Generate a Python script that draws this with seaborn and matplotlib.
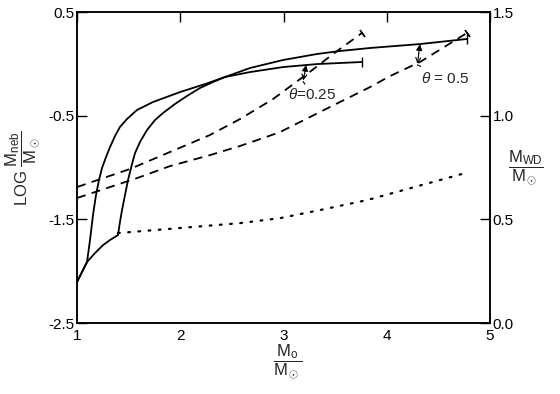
import numpy as np
import seaborn as sns
import matplotlib.pyplot as plt

# initial mass M0/Msun vs LOG Mneb/Msun (solid, left axis)
m0_solid_025 = [1.0, 1.097, 1.126, 1.155, 1.184, 1.213, 1.242, 1.281, 1.320, 1.368, 1.416, 1.484,
                1.581, 1.736, 1.998, 2.240, 2.433, 2.676, 2.995, 3.324, 3.760]
logneb_025 = [-2.104, -1.911, -1.699, -1.458, -1.265, -1.121, -1.005, -0.899, -0.802, -0.696, -0.609, -0.532,
              -0.445, -0.368, -0.272, -0.195, -0.127, -0.079, -0.031, -0.002, 0.018]
m0_solid_05 = [1.0, 1.097, 1.174, 1.252, 1.320, 1.397, 1.416, 1.436, 1.465, 1.494, 1.533, 1.562, 1.610,
               1.678, 1.755, 1.833, 1.949, 2.065, 2.191, 2.317, 2.433, 2.676, 2.995, 3.324, 3.547, 3.838,
               4.322, 4.777]
logneb_05 = [-2.104, -1.911, -1.825, -1.748, -1.699, -1.651, -1.526, -1.410, -1.265, -1.121, -0.966, -0.860, -0.754,
             -0.638, -0.542, -0.474, -0.387, -0.310, -0.233, -0.175, -0.127, -0.040, 0.037, 0.095, 0.124, 0.153,
             0.191, 0.240]

# white dwarf mass MWD/Msun (dashed + dotted, right axis)
m0_dash_025 = [1.0, 1.513, 1.901, 2.288, 2.579, 2.898, 3.228, 3.479, 3.760]
mwd_025 = [0.656, 0.743, 0.825, 0.907, 0.984, 1.080, 1.201, 1.297, 1.399]
m0_dash_05 = [1.0, 1.581, 1.901, 2.288, 2.579, 2.801, 2.966, 3.450, 3.838, 4.031, 4.322, 4.777]
mwd_05 = [0.603, 0.699, 0.757, 0.810, 0.854, 0.892, 0.921, 1.042, 1.138, 1.191, 1.259, 1.399]
m0_dot = [1.397, 2.579, 2.966, 3.353, 3.809, 4.758]
mwd_dot = [0.434, 0.482, 0.506, 0.545, 0.593, 0.723]

xticks = [1, 2, 3, 4, 5]
left_ticks = [-2.5, -1.5, -0.5, 0.5]
right_ticks = [0.0, 0.5, 1.0, 1.5]

sns.set_theme(style="white")
plt.rcParams['font.family'] = ['Liberation Sans', 'DejaVu Sans']
plt.rcParams['mathtext.fontset'] = 'custom'
plt.rcParams['mathtext.rm'] = 'Liberation Sans'
plt.rcParams['mathtext.it'] = 'Liberation Sans:italic'
plt.rcParams['axes.unicode_minus'] = False

fig = plt.figure(figsize=(5.6, 3.94), dpi=100)
ax = fig.add_axes([0.1375, 0.18, 0.7375, 0.7895])
ax2 = ax.twinx()

dash = (0, (5, 3.5))
sns.lineplot(x=m0_solid_025, y=logneb_025, ax=ax, color='black', lw=1.3, sort=False, estimator=None)
sns.lineplot(x=m0_solid_05, y=logneb_05, ax=ax, color='black', lw=1.3, sort=False, estimator=None)
sns.lineplot(x=m0_dash_025, y=mwd_025, ax=ax2, color='black', lw=1.3, linestyle=dash, sort=False, estimator=None)
sns.lineplot(x=m0_dash_05, y=mwd_05, ax=ax2, color='black', lw=1.3, linestyle=dash, sort=False, estimator=None)
sns.lineplot(x=m0_dot, y=mwd_dot, ax=ax2, color='black', lw=1.6, linestyle=(0, (0.8, 3.8)),
             dash_capstyle='round', sort=False, estimator=None)

# end bars of the curves
ax.plot(m0_solid_025[-1], logneb_025[-1], marker='|', ms=7, mew=1, color='black')
ax.plot(m0_solid_05[-1], logneb_05[-1], marker='|', ms=7, mew=1, color='black')
ax2.plot(m0_dash_025[-1], mwd_025[-1], marker=(2, 2, 36), ms=6, mew=1, color='black')
ax2.plot(m0_dash_05[-1], mwd_05[-1], marker=(2, 2, 36), ms=6, mew=1, color='black')

ax.set_xlim(1, 5)
ax.set_ylim(-2.5, 0.5)
ax2.set_ylim(0, 1.5)
ax.set_xticks(xticks)
ax.set_xticklabels([str(v) for v in xticks])
ax.set_yticks(left_ticks)
ax.set_yticklabels([f"{v:.1f}" for v in left_ticks])
ax2.set_yticks(right_ticks)
ax2.set_yticklabels([f"{v:.1f}" for v in right_ticks])

ax.tick_params(axis='both', direction='in', length=7, width=1, labelsize=11, pad=2,
               top=True, right=False, colors='black')
ax.tick_params(axis='x', pad=4)
ax2.tick_params(axis='y', direction='in', length=7, width=1, labelsize=11, pad=2,
                left=False, right=True, colors='black')
for a in (ax, ax2):
    for s in a.spines.values():
        s.set_color('black')
        s.set_linewidth(1.1)
ax.set_xlabel('')
ax.set_ylabel('')
ax2.set_ylabel('')

# theta annotations: arrow between the solid and dashed curve of each theta
arrow_head = dict(arrowstyle='-|>', color='black', lw=0.8, mutation_scale=9, shrinkA=0, shrinkB=0)
arrow_vee = dict(arrowstyle='->', color='black', lw=0.8, mutation_scale=9, shrinkA=0, shrinkB=0)
ax.annotate('', xy=(3.218, -0.01), xytext=(3.205, -0.09), arrowprops=arrow_head)
ax.annotate('', xy=(3.19, -0.16), xytext=(3.205, -0.09), arrowprops=arrow_vee)
ax.annotate(r'$\theta$=0.25', xy=(3.19, -0.17), xytext=(3.275, -0.30), ha='center', va='center',
            fontsize=11, arrowprops=dict(arrowstyle='-', color='black', lw=0.8, shrinkA=4, shrinkB=0))
ax.annotate('', xy=(4.322, 0.19), xytext=(4.31, 0.10), arrowprops=arrow_head)
ax.annotate('', xy=(4.298, 0.0), xytext=(4.31, 0.10), arrowprops=arrow_vee)
ax.annotate(r'$\theta$ = 0.5', xy=(4.298, -0.01), xytext=(4.57, -0.14), ha='center', va='center',
            fontsize=11, arrowprops=dict(arrowstyle='-', color='black', lw=0.8, shrinkA=2, shrinkB=0))

# axis labels
fig.text(0.040, 0.574, r'LOG $\dfrac{\mathrm{M_{neb}}}{\mathrm{M_\odot}}$', rotation=90,
         ha='center', va='center', fontsize=12)
fig.text(0.940, 0.574, r'$\dfrac{\mathrm{M_{WD}}}{\mathrm{M_\odot}}$', ha='center', va='center', fontsize=12)
fig.text(0.513, 0.081, r'$\dfrac{\mathrm{M_{o}}}{\mathrm{M_\odot}}$', ha='center', va='center', fontsize=12)

fig.savefig('out.png', dpi=100, facecolor='white')
